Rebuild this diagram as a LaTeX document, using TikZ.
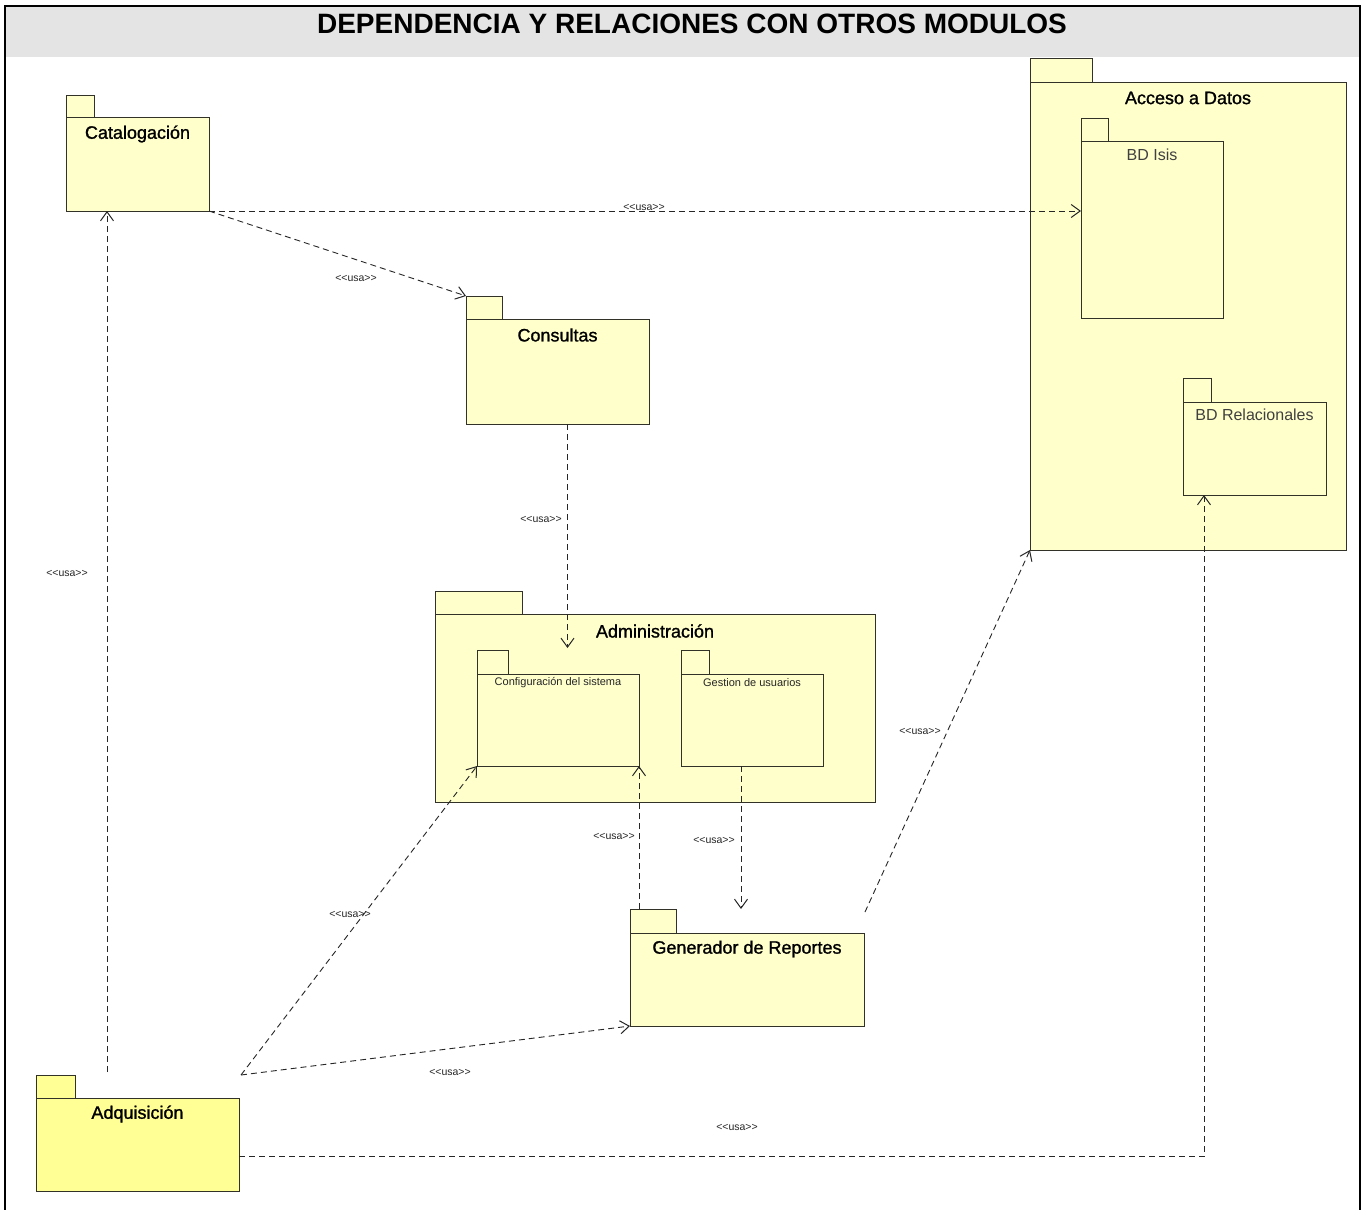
\documentclass[tikz,border=0pt]{standalone}
\usepackage{fontspec}
\setmainfont{Liberation Sans}
\newfontfamily\pkgfont[FakeBold=1.2]{Liberation Sans}
\usetikzlibrary{arrows.meta,calc}

\definecolor{pkgyellow}{RGB}{255,255,204}
\definecolor{adqyellow}{RGB}{255,255,150}
\definecolor{pkgline}{RGB}{50,50,40}
\definecolor{bandgray}{RGB}{228,228,228}

\tikzset{
  pkgbox/.style={draw=pkgline, line width=1pt, inner sep=0pt, outer sep=0pt, anchor=north west},
  mainlbl/.style={font=\pkgfont\fontsize{18}{20}\selectfont, text=black, inner sep=0pt},
  sublbl/.style={font=\fontsize{16}{18}\selectfont, text=black!75, inner sep=0pt},
  smalllbl/.style={font=\fontsize{11}{13}\selectfont, text=black!85, inner sep=0pt},
  usa/.style={font=\fontsize{10.5}{12}\selectfont, text=black!85, inner sep=0pt},
  dep/.style={draw=black!85, line width=0.9pt, dash pattern=on 6pt off 4pt,
    -{Straight Barb[length=9pt,width=13pt,line width=1pt]}},
}

% package symbol: tab + body; #2 name, #3 left x, #4 tab top, #5 tab right, #6 body top, #7 right x, #8 bottom
\newcommand{\umlpkg}[8][pkgyellow]{%
  \node[pkgbox, fill=#1, minimum width={#5pt-#3pt}, minimum height={#6pt-#4pt}] (#2tab) at (#3,#4) {};
  \node[pkgbox, fill=#1, minimum width={#7pt-#3pt}, minimum height={#8pt-#6pt}] (#2) at (#3,#6) {};
}
% stereotype text, with the angle brackets kept apart
\newcommand{\usatxt}{<{}<usa>{}>}

\begin{document}
\begin{tikzpicture}[x=1pt,y=-1pt]
  \useasboundingbox[fill=white] (0,0) rectangle (1369,1210);

  % title band and frame
  \fill[bandgray] (5,6) rectangle (1360,57);
  \draw[line width=1.5pt] (5,1210) |- (1360,6) -- (1360,1210);
  \node[font=\bfseries\fontsize{28}{30}\selectfont, inner sep=0pt] (title) at (692,24)
    {DEPENDENCIA Y RELACIONES CON OTROS MODULOS};

  % packages
  \umlpkg{cat}{66}{95}{94}{117}{209}{211}
  \node[mainlbl] (catL) at ($(cat.north)+(0,17)$) {Catalogación};

  \umlpkg{acc}{1030}{58}{1092}{82}{1346}{550}
  \node[mainlbl] (accL) at ($(acc.north)+(0,16)$) {Acceso a Datos};
  \umlpkg{isis}{1081}{118}{1108}{141}{1223}{318}
  \node[sublbl] (isisL) at ($(isis.north)+(0,14)$) {BD Isis};
  \umlpkg{rel}{1183}{378}{1211}{402}{1326}{495}
  \node[sublbl] (relL) at ($(rel.north)+(0,13)$) {BD Relacionales};

  \umlpkg{cons}{466}{296}{502}{319}{649}{424}
  \node[mainlbl] (consL) at ($(cons.north)+(0,16)$) {Consultas};

  \umlpkg{adm}{435}{591}{522}{614}{875}{802}
  \node[mainlbl] (admL) at ($(adm.north)+(0,17)$) {Administración};
  \umlpkg{conf}{477}{650}{508}{674}{639}{766}
  \node[smalllbl] (confL) at ($(conf.north)+(0,9)$) {Configuración del sistema};
  \umlpkg{gest}{681}{650}{709}{674}{823}{766}
  \node[smalllbl] (gestL) at ($(gest.north)+(0,9)$) {Gestion de usuarios};

  \umlpkg{gen}{630}{909}{676}{933}{864}{1026}
  \node[mainlbl] (genL) at ($(gen.north)+(0,16)$) {Generador de Reportes};

  \umlpkg[adqyellow]{adq}{36}{1075}{75}{1098}{239}{1191}
  \node[mainlbl] (adqL) at ($(adq.north)+(0,16)$) {Adquisición};

  % connector end points
  \coordinate (adqOut) at ($(adq.north east)+(2,-23)$);
  \coordinate (adqUp) at ($(adq.north west)+(71,-26)$);
  \coordinate (catIn) at ($(cat.south west)+(41,0)$);
  \coordinate (consOut) at ($(cons.south)+(10,0)$);
  \coordinate (admIn) at ($(adm.north)+(-87,34)$);
  \coordinate (gestOut) at ($(gest.south west)+(60,0)$);
  \coordinate (genOut) at ($(gen.north east)+(1,-21)$);
  \coordinate (relIn) at ($(rel.south west)+(21,0)$);

  % dependencies
  \draw[dep] (cat.south east) -- (isis.west |- cat.south east);
  \node[usa] (u1) at (644,207) {\usatxt};

  \draw[dep] (cat.south east) -- (constab.north west);
  \node[usa] (u2) at (356,278) {\usatxt};

  \draw[dep] (consOut) -- (consOut |- admIn);
  \node[usa] (u3) at (541,519) {\usatxt};

  \draw[dep] (adqUp) -- (catIn);
  \node[usa] (u4) at (67,573) {\usatxt};

  \draw[dep] (adqOut) -- (conf.south west);
  \node[usa] (u5) at (350,914) {\usatxt};

  \draw[dep] (adqOut) -- (gen.south west);
  \node[usa] (u6) at (450,1072) {\usatxt};

  \draw[dep] (conf.south east |- gentab.north) -- (conf.south east);
  \node[usa] (u7) at (614,836) {\usatxt};

  \draw[dep] (gestOut) -- (gestOut |- gentab.north);
  \node[usa] (u8) at (714,840) {\usatxt};

  \draw[dep] (genOut) -- (acc.south west);
  \node[usa] (u9) at (920,731) {\usatxt};

  \draw[dep] ($(adq.east)+(0,12)$) -| (relIn);
  \node[usa] (u10) at (737,1127) {\usatxt};
\end{tikzpicture}
\end{document}
